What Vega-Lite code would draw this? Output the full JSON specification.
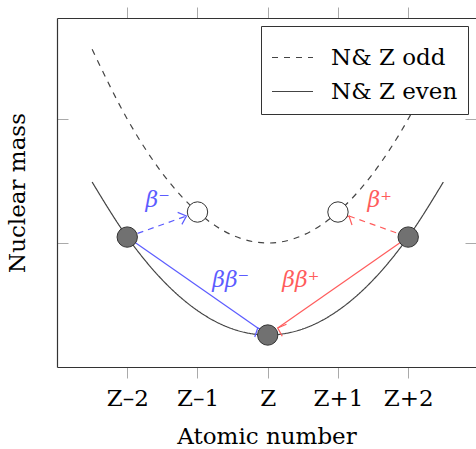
{
  "$schema": "https://vega.github.io/schema/vega-lite/v6.json",
  "width": 419,
  "height": 349,
  "autosize": {"type": "none"},
  "padding": {"left": 57, "top": 18, "right": 0, "bottom": 82},
  "background": "white",
  "config": {"view": {"stroke": null}, "font": "DejaVu Serif"},
  "datasets": {
    "curves": [
      {"z": -2.5, "m": 1.5625, "s": "N& Z odd"},
      {"z": -2.0, "m": 1.0, "s": "N& Z odd"},
      {"z": -1.5, "m": 0.5625, "s": "N& Z odd"},
      {"z": -1.0, "m": 0.25, "s": "N& Z odd"},
      {"z": -0.5, "m": 0.0625, "s": "N& Z odd"},
      {"z": 0.0, "m": 0.0, "s": "N& Z odd"},
      {"z": 0.5, "m": 0.0625, "s": "N& Z odd"},
      {"z": 1.0, "m": 0.25, "s": "N& Z odd"},
      {"z": 1.5, "m": 0.5625, "s": "N& Z odd"},
      {"z": 2.0, "m": 1.0, "s": "N& Z odd"},
      {"z": 2.5, "m": 1.5625, "s": "N& Z odd"},
      {"z": -2.5, "m": 0.492, "s": "N& Z even"},
      {"z": -2.0, "m": 0.048, "s": "N& Z even"},
      {"z": -1.5, "m": -0.298, "s": "N& Z even"},
      {"z": -1.0, "m": -0.545, "s": "N& Z even"},
      {"z": -0.5, "m": -0.693, "s": "N& Z even"},
      {"z": 0.0, "m": -0.742, "s": "N& Z even"},
      {"z": 0.5, "m": -0.693, "s": "N& Z even"},
      {"z": 1.0, "m": -0.545, "s": "N& Z even"},
      {"z": 1.5, "m": -0.298, "s": "N& Z even"},
      {"z": 2.0, "m": 0.048, "s": "N& Z even"},
      {"z": 2.5, "m": 0.492, "s": "N& Z even"}
    ],
    "evenPts": [
      {"z": -2, "m": 0.048},
      {"z": 0, "m": -0.742},
      {"z": 2, "m": 0.048}
    ],
    "oddPts": [
      {"z": -1, "m": 0.25},
      {"z": 1, "m": 0.25}
    ],
    "dashArrows": [
      {"id": "bm", "c": "minus", "z": -2, "m": 0.048},
      {"id": "bm", "c": "minus", "z": -1.157, "m": 0.218},
      {"id": "bp", "c": "plus", "z": 2, "m": 0.048},
      {"id": "bp", "c": "plus", "z": 1.157, "m": 0.218}
    ],
    "solidArrows": [
      {"id": "bbm", "c": "minus", "z": -2, "m": 0.048},
      {"id": "bbm", "c": "minus", "z": -0.142, "m": -0.685},
      {"id": "bbp", "c": "plus", "z": 2, "m": 0.048},
      {"id": "bbp", "c": "plus", "z": 0.142, "m": -0.685}
    ],
    "heads": [
      {"id": "bm", "c": "minus", "z": -1.157, "m": 0.218},
      {"id": "bp", "c": "plus", "z": 1.157, "m": 0.218},
      {"id": "bbm", "c": "minus", "z": -0.142, "m": -0.685},
      {"id": "bbp", "c": "plus", "z": 0.142, "m": -0.685}
    ],
    "labels": [
      {"z": -1.566, "m": 0.347, "t": "β⁻", "c": "minus"},
      {"z": 1.594, "m": 0.347, "t": "β⁺", "c": "plus"},
      {"z": -0.527, "m": -0.298, "t": "ββ⁻", "c": "minus"},
      {"z": 0.47, "m": -0.298, "t": "ββ⁺", "c": "plus"}
    ]
  },
  "resolve": {"axis": {"x": "independent", "y": "independent"}},
  "layer": [
    {
      "data": {"name": "curves"},
      "mark": {"type": "line", "stroke": "#444", "strokeWidth": 1.2, "interpolate": "monotone"},
      "encoding": {
        "x": {"field": "z", "type": "quantitative",
          "scale": {"domain": [-3, 2.965], "nice": false, "zero": false},
          "axis": {"orient": "bottom", "values": [-2, -1, 0, 1, 2],
            "labelExpr": "datum.value == -2 ? 'Z–2' : datum.value == -1 ? 'Z–1' : datum.value == 0 ? 'Z' : datum.value == 1 ? 'Z+1' : 'Z+2'",
            "title": "Atomic number", "grid": false,
            "domainColor": "#333", "domainWidth": 1.2,
            "tickColor": "#aaa", "tickSize": 11, "tickWidth": 1,
            "labelFont": "DejaVu Serif", "labelFontSize": 23, "labelColor": "black", "labelPadding": 9,
            "titleFont": "DejaVu Serif", "titleFontSize": 23, "titleFontWeight": "normal", "titleColor": "black", "titlePadding": 15}},
        "y": {"field": "m", "type": "quantitative",
          "scale": {"domain": [-1, 1.815], "nice": false, "zero": false},
          "axis": {"orient": "left", "values": [0, 1], "labels": false, "grid": false,
            "title": "Nuclear mass",
            "domainColor": "#333", "domainWidth": 1.2,
            "tickColor": "#aaa", "tickSize": -11, "tickWidth": 1,
            "titleFont": "DejaVu Serif", "titleFontSize": 23, "titleFontWeight": "normal", "titleColor": "black", "titlePadding": 27}},
        "strokeDash": {"field": "s", "type": "nominal",
          "scale": {"domain": ["N& Z odd", "N& Z even"], "range": [[6, 6], [1, 0]]},
          "legend": {"orient": "top-right", "offset": 8, "title": null,
            "fillColor": "white", "strokeColor": "#333", "padding": 10,
            "labelFont": "DejaVu Serif", "labelFontSize": 23, "labelColor": "black",
            "symbolType": "stroke", "symbolSize": 1681, "symbolStrokeWidth": 1.2, "symbolStrokeColor": "#444",
            "rowPadding": -7, "labelOffset": 17}}
      }
    },
    {
      "data": {"name": "dashArrows"},
      "mark": {"type": "line", "strokeWidth": 1.2, "strokeDash": [6, 5]},
      "encoding": {
        "x": {"field": "z", "type": "quantitative",
          "axis": {"orient": "top", "values": [-2, -1, 0, 1, 2], "labels": false, "title": null, "grid": false,
            "domainColor": "#333", "domainWidth": 1.2, "tickColor": "#aaa", "tickSize": 11, "tickWidth": 1}},
        "y": {"field": "m", "type": "quantitative",
          "axis": {"orient": "right", "values": [0, 1], "labels": false, "title": null, "grid": false,
            "domain": false, "tickColor": "#aaa", "tickSize": -11, "tickWidth": 1}},
        "detail": {"field": "id"},
        "color": {"field": "c", "type": "nominal",
          "scale": {"domain": ["minus", "plus"], "range": ["#5c5cff", "#ff5c5c"]}, "legend": null}
      }
    },
    {
      "data": {"name": "solidArrows"},
      "mark": {"type": "line", "strokeWidth": 1.2},
      "encoding": {
        "x": {"field": "z", "type": "quantitative", "axis": null},
        "y": {"field": "m", "type": "quantitative", "axis": null},
        "detail": {"field": "id"},
        "color": {"field": "c", "type": "nominal", "legend": null}
      }
    },
    {
      "data": {"name": "heads"},
      "mark": {"type": "point", "shape": "M-1,-0.9L0,0L-1,0.9", "filled": false, "strokeWidth": 1.2, "size": 200, "opacity": 1},
      "encoding": {
        "x": {"field": "z", "type": "quantitative", "axis": null},
        "y": {"field": "m", "type": "quantitative", "axis": null},
        "angle": {"field": "id", "type": "nominal",
          "scale": {"domain": ["bm", "bp", "bbm", "bbp"], "range": [340.6, 199.4, 34.8, 145.2]}, "legend": null},
        "color": {"field": "c", "type": "nominal", "legend": null}
      }
    },
    {
      "data": {"name": "evenPts"},
      "mark": {"type": "point", "filled": true, "fill": "#717171", "stroke": "#333", "strokeWidth": 1, "size": 415, "opacity": 1},
      "encoding": {
        "x": {"field": "z", "type": "quantitative", "axis": null},
        "y": {"field": "m", "type": "quantitative", "axis": null}
      }
    },
    {
      "data": {"name": "oddPts"},
      "mark": {"type": "point", "filled": true, "fill": "white", "stroke": "#333", "strokeWidth": 1, "size": 415, "opacity": 1},
      "encoding": {
        "x": {"field": "z", "type": "quantitative", "axis": null},
        "y": {"field": "m", "type": "quantitative", "axis": null}
      }
    },
    {
      "data": {"name": "labels"},
      "mark": {"type": "text", "font": "DejaVu Serif", "fontStyle": "italic", "fontSize": 22, "align": "center", "baseline": "middle"},
      "encoding": {
        "x": {"field": "z", "type": "quantitative", "axis": null},
        "y": {"field": "m", "type": "quantitative", "axis": null},
        "text": {"field": "t"},
        "color": {"field": "c", "type": "nominal", "legend": null}
      }
    }
  ]
}
